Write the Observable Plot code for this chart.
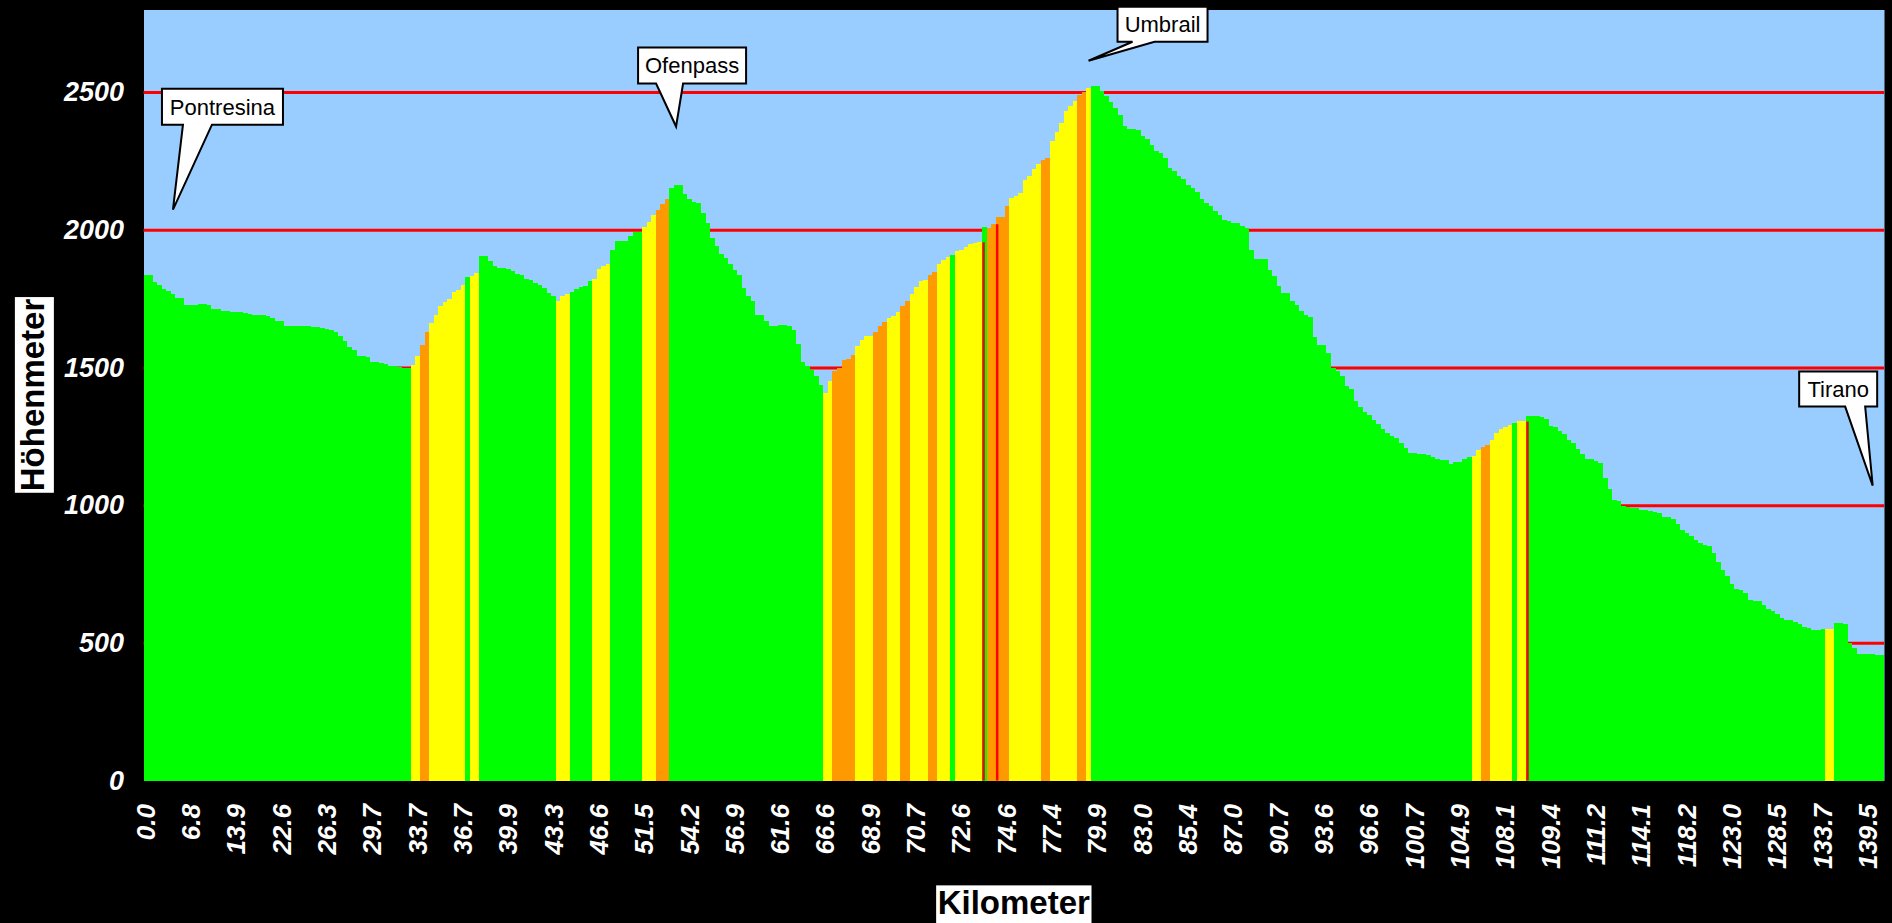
<!DOCTYPE html>
<html>
<head>
<meta charset="utf-8">
<script src="https://cdn.jsdelivr.net/npm/d3@7"></script>
<script src="https://cdn.jsdelivr.net/npm/@observablehq/plot@0.6"></script>
<style>
html, body { margin: 0; padding: 0; background: #000; }
#chart svg { display: block; }
</style>
</head>
<body>
<div id="chart"></div>
<script>
// ---------- DATA ----------
// km labels shown under every 10th profile point
const kmLabels = ["0.0","6.8","13.9","22.6","26.3","29.7","33.7","36.7","39.9","43.3","46.6","51.5","54.2","56.9","61.6","66.6","68.9","70.7","72.6","74.6","77.4","79.9","83.0","85.4","87.0","90.7","93.6","96.6","100.7","104.9","108.1","109.4","111.2","114.1","118.2","123.0","128.5","133.7","139.5"];

// elevation (m) of each profile point, in order
const elevation = [
  1837,1837,1811,1801,1785,1777,1768,1753,1753,1728,
  1728,1728,1730,1730,1727,1713,1713,1704,1704,1703,
  1700,1700,1698,1693,1690,1690,1690,1688,1680,1669,
  1669,1652,1650,1650,1651,1652,1651,1647,1646,1642,
  1638,1635,1630,1616,1595,1575,1565,1541,1541,1538,
  1519,1519,1517,1511,1507,1505,1502,1498,1498,1510,
  1541,1583,1628,1662,1692,1722,1737,1749,1773,1783,
  1799,1829,1831,1843,1906,1906,1886,1868,1860,1860,
  1856,1850,1838,1834,1822,1819,1805,1801,1789,1771,
  1761,1741,1761,1765,1773,1786,1793,1795,1813,1822,
  1858,1870,1877,1925,1958,1958,1958,1979,1991,1991,
  2010,2027,2055,2073,2092,2110,2150,2162,2162,2131,
  2110,2102,2098,2061,2025,1971,1940,1913,1896,1874,
  1855,1837,1789,1759,1741,1692,1692,1668,1652,1652,
  1656,1656,1650,1635,1587,1519,1505,1490,1468,1438,
  1408,1450,1487,1499,1526,1531,1546,1577,1601,1614,
  1616,1628,1652,1664,1680,1688,1701,1725,1740,1768,
  1793,1813,1819,1834,1846,1874,1892,1901,1910,1922,
  1928,1937,1949,1952,1955,2010,2007,2022,2047,2047,
  2085,2116,2122,2134,2182,2194,2219,2240,2255,2260,
  2324,2354,2388,2430,2451,2467,2490,2499,2515,2521,
  2521,2503,2485,2464,2442,2418,2376,2366,2366,2361,
  2340,2328,2309,2285,2279,2261,2225,2213,2197,2185,
  2164,2152,2136,2110,2098,2086,2068,2052,2037,2031,
  2025,2023,2013,2007,1928,1894,1894,1894,1853,1831,
  1797,1771,1771,1740,1728,1704,1692,1684,1610,1583,
  1580,1553,1499,1486,1468,1434,1420,1378,1357,1338,
  1329,1309,1293,1275,1263,1250,1244,1226,1207,1190,
  1190,1184,1184,1182,1176,1168,1163,1163,1151,1156,
  1156,1166,1176,1178,1200,1212,1220,1238,1263,1277,
  1284,1290,1299,1306,1306,1323,1323,1323,1321,1313,
  1289,1284,1269,1257,1238,1226,1204,1184,1168,1166,
  1160,1153,1100,1057,1020,1014,996,994,990,990,
  984,984,978,974,972,957,957,950,930,909,
  899,887,875,861,857,851,827,793,766,742,
  712,696,691,681,657,651,651,639,623,615,
  603,591,582,582,575,570,558,554,548,548,
  551,551,551,573,573,570,500,482,458,458,
  458,458,454,454
];

// gradient class of consecutive points (run-length: class, number of points)
// G = flat/moderate, Y = steeper, O = steep, R = very steep
const gradeRuns = [
  ["G",59],["Y",2],["O",2],["Y",8],["G",1],["Y",2],["G",17],["Y",3],["G",5],["Y",4],
  ["G",7],["Y",3],["O",3],["G",34],["Y",2],["O",5],["Y",4],["O",3],["Y",3],["O",2],
  ["Y",4],["O",2],["Y",3],["G",1],["Y",6],["G",1],["O",5],["Y",7],["O",2],["Y",6],
  ["O",2],["Y",1],["G",84],["Y",2],["O",2],["Y",5],["G",1],["Y",2],["G",66],["Y",2],
  ["G",11]
];

// very steep short pieces (thin red lines): point index and top elevation
const redLineBar = [185, 188, 305];
const redLineTop = [1955, 2020, 1304];

// y axis ticks
const yTicks = [0, 500, 1000, 1500, 2000, 2500];

// place callouts: name, point index of the pointer tip, elevation of the tip
const calloutNames = ["Pontresina", "Ofenpass", "Umbrail", "Tirano"];
const calloutBar = [6, 117, 208, 381];
const calloutElev = [2073, 2375, 2614, 1071];

// ---------- STYLE / LAYOUT ----------
const gradeColors = { G: "#00FF00", Y: "#FFFF00", O: "#FF9900", R: "#FF0000" };
const calloutLayout = [
  { dx: -11,   dy: -121, w: 121, h: 36, b0: 21, b1: 50 },
  { dx: -38,   dy: -79,  w: 108, h: 36, b0: 18, b1: 45 },
  { dx: 29,    dy: -54,  w: 90,  h: 35, b0: 15, b1: 37 },
  { dx: -73.5, dy: -114, w: 78,  h: 35, b0: 46, b1: 66 }
];
const FONT = "'Liberation Sans', Arial, Helvetica, sans-serif";

// ---------- BUILD ----------
const idx = d3.range(elevation.length);
const grade = gradeRuns.flatMap(([c, k]) => Array(k).fill(c));
const rows = idx.map(i => ({ i, elev: elevation[i], color: gradeColors[grade[i]] }));
const tickIdx = kmLabels.map((_, k) => k * 10);
const redRows = redLineBar.map((b, k) => ({ b, top: redLineTop[k] }));

const plot = Plot.plot({
  width: 1892,
  height: 923,
  marginLeft: 143.5,
  marginRight: 8,
  marginTop: 9.5,
  marginBottom: 142.5,
  style: { background: "#000", color: "#fff", fontFamily: FONT, overflow: "visible" },
  x: { type: "band", domain: idx, padding: 0, round: false },
  y: { domain: [0, 2800] },
  color: { type: "identity" },
  marks: [
    Plot.frame({ fill: "#99CCFF", stroke: null }),
    Plot.ruleY(yTicks.filter(v => v > 0), { stroke: "#FF0000", strokeWidth: 3 }),
    Plot.barY(rows, { x: "i", y: "elev", fill: "color", shapeRendering: "crispEdges" }),
    Plot.ruleX(redRows, { x: "b", y1: 0, y2: "top", stroke: "#FF0000", strokeWidth: 2.5, dx: -1.2 }),
    Plot.axisY({ ticks: yTicks, tickFormat: d => String(d), tickSize: 0, tickPadding: 20, fill: "#fff",
      fontSize: 27, fontWeight: "bold", fontStyle: "italic", label: null }),
    Plot.axisX({ ticks: tickIdx, tickSize: 0, tickPadding: 23, tickRotate: -90,
      tickFormat: i => kmLabels[i / 10], fill: "#fff",
      fontSize: 26, fontWeight: "bold", fontStyle: "italic", label: null })
  ]
});

document.getElementById("chart").appendChild(plot);

// ---------- ANNOTATIONS ----------
const svg = d3.select(plot);
const xs = plot.scale("x");
const ys = plot.scale("y");
const bw = xs.bandwidth || 0;

// callouts
const cg = svg.append("g").attr("font-family", FONT);
calloutNames.forEach((name, k) => {
  const tx = xs.apply(calloutBar[k]) + bw / 2;
  const ty = ys.apply(calloutElev[k]);
  const L = calloutLayout[k];
  const left = tx + L.dx, top = ty + L.dy, right = left + L.w, bottom = top + L.h;
  const path = `M${left},${top}L${right},${top}L${right},${bottom}L${left + L.b1},${bottom}L${tx},${ty}L${left + L.b0},${bottom}L${left},${bottom}Z`;
  cg.append("path").attr("d", path).attr("fill", "#fff").attr("stroke", "#000")
    .attr("stroke-width", 2).attr("stroke-linejoin", "miter");
  cg.append("text").attr("x", (left + right) / 2).attr("y", (top + bottom) / 2)
    .attr("dy", "0.36em").attr("text-anchor", "middle")
    .attr("font-size", 22).attr("fill", "#000").text(name);
});

// axis titles with white boxes
function boxedTitle(text, cx, cy, rotate) {
  const g = svg.append("g").attr("transform", `translate(${cx},${cy}) rotate(${rotate})`);
  const rect = g.append("rect").attr("fill", "#fff");
  const t = g.append("text").attr("text-anchor", "middle").attr("dy", "0.36em")
    .attr("font-family", FONT).attr("font-weight", "bold").attr("font-size", 33)
    .attr("fill", "#000").text(text);
  const bb = t.node().getBBox();
  rect.attr("x", bb.x - 1.5).attr("y", bb.y + 1).attr("width", bb.width + 3).attr("height", bb.height + 2);
}
const xr = xs.range, yr = ys.range;
boxedTitle("Kilometer", (xr[0] + xr[1]) / 2, 902.5, 0);
boxedTitle("Höhenmeter", 32, (yr[0] + yr[1]) / 2, -90);
</script>
</body>
</html>
